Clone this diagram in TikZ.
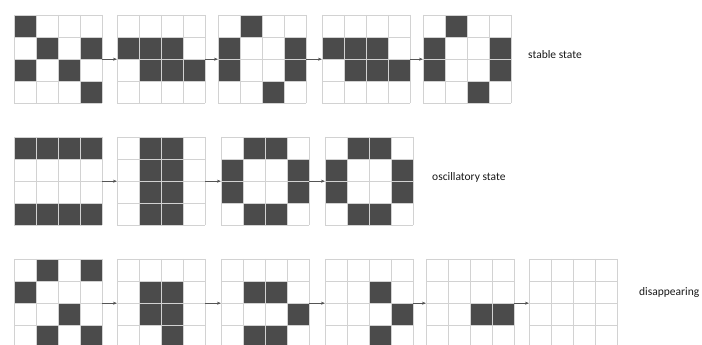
\documentclass[tikz,border=0pt]{standalone}
\usepackage{fontspec}
\setmainfont{Carlito}
\usetikzlibrary{arrows.meta,calc}
\definecolor{cellfill}{HTML}{4B4B4B}
\definecolor{gridline}{HTML}{D2D2D2}
\definecolor{arrowcol}{HTML}{555555}
\tikzset{
  gridnode/.style={rectangle, draw=none, inner sep=0pt, minimum size=88pt, anchor=north west},
  gridlines/.style={draw=gridline, line width=0.8pt},
  cellstyle/.style={fill=cellfill},
  steparrow/.style={draw=arrowcol, line width=0.6pt, -{Stealth[length=4pt,width=3pt]}},
  caption/.style={anchor=west, font=\fontsize{11.5pt}{13pt}\selectfont, text=black!90, inner sep=0pt}
}
\newcommand\gridframe[1]{%
  \foreach \i in {0,...,4}{%
    \draw[gridlines] ($(#1.north west)+(\i*22,0)$) -- ++(0,-88);
    \draw[gridlines] ($(#1.north west)+(0,-\i*22)$) -- ++(88,0);
  }%
}
\newcommand\lifegrid[4]{%
  \node[gridnode] (#1) at (#2,345-#3) {};
  \foreach \r/\c in {#4}{%
    \fill[cellstyle] ($(#1.north west)+(\c*22,-\r*22)$) rectangle ++(22,-22);
  }%
  \gridframe{#1}%
}
\newcommand\emptygrid[3]{%
  \node[gridnode] (#1) at (#2,345-#3) {};
  \gridframe{#1}%
}
\begin{document}
\begin{tikzpicture}[x=1pt,y=1pt]
\useasboundingbox[fill=white] (0,0) rectangle (702,345);
% row 1: stable state
\lifegrid{a1}{14}{15}{0/0,1/1,1/3,2/0,2/2,3/3}
\lifegrid{a2}{117}{15}{1/0,1/1,1/2,2/1,2/2,2/3}
\lifegrid{a3}{218}{15}{0/1,1/0,1/3,2/0,2/3,3/2}
\lifegrid{a4}{322}{15}{1/0,1/1,1/2,2/1,2/2,2/3}
\lifegrid{a5}{423}{15}{0/1,1/0,1/3,2/0,2/3,3/2}
\draw[steparrow] (a1.east) -- (a2.west);
\draw[steparrow] (a2.east) -- (a3.west);
\draw[steparrow] (a3.east) -- (a4.west);
\draw[steparrow] (a4.east) -- (a5.west);
\node[caption] (ta) at (528,345-55) {stable state};
% row 2: oscillatory state
\lifegrid{b1}{14}{137}{0/0,0/1,0/2,0/3,3/0,3/1,3/2,3/3}
\lifegrid{b2}{117}{137}{0/1,0/2,1/1,1/2,2/1,2/2,3/1,3/2}
\lifegrid{b3}{221}{137}{0/1,0/2,1/0,1/3,2/0,2/3,3/1,3/2}
\lifegrid{b4}{325}{137}{0/1,0/2,1/0,1/3,2/0,2/3,3/1,3/2}
\draw[steparrow] (b1.east) -- (b2.west);
\draw[steparrow] (b2.east) -- (b3.west);
\draw[steparrow] (b3.east) -- (b4.west);
\node[caption] (tb) at (432,345-177) {oscillatory state};
% row 3: disappearing
\lifegrid{c1}{14}{259}{0/1,0/3,1/0,2/2,3/1,3/3}
\lifegrid{c2}{117}{259}{1/1,1/2,2/1,2/2,3/2}
\lifegrid{c3}{221}{259}{1/1,1/2,2/3,3/1,3/2}
\lifegrid{c4}{325}{259}{1/2,2/3,3/2}
\lifegrid{c5}{426}{259}{2/2,2/3}
\emptygrid{c6}{529}{259}
\draw[steparrow] (c1.east) -- (c2.west);
\draw[steparrow] (c2.east) -- (c3.west);
\draw[steparrow] (c3.east) -- (c4.west);
\draw[steparrow] (c4.east) -- (c5.west);
\draw[steparrow] (c5.east) -- (c6.west);
\node[caption] (tc) at (639,345-292) {disappearing};
\end{tikzpicture}
\end{document}
